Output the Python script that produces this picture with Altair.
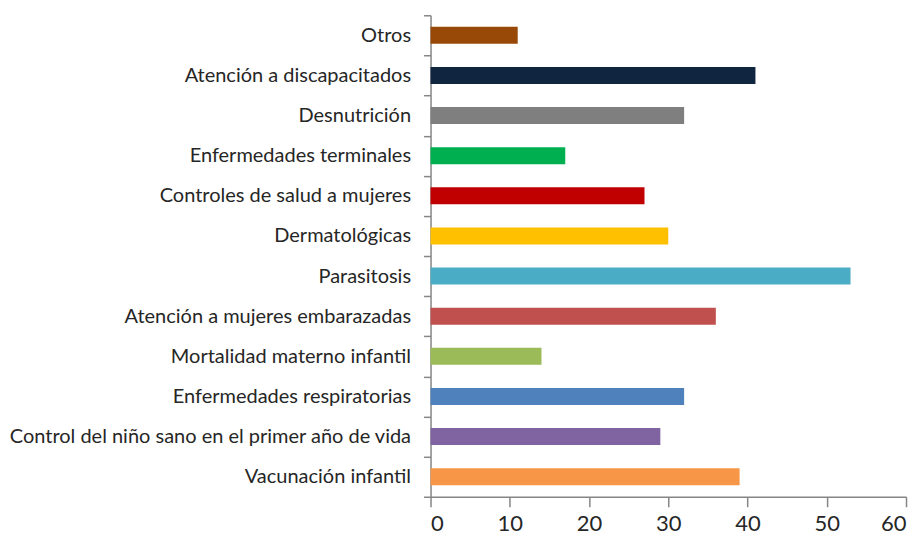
import altair as alt
import pandas as pd

categories = [
    "Otros",
    "Atención a discapacitados",
    "Desnutrición",
    "Enfermedades terminales",
    "Controles de salud a mujeres",
    "Dermatológicas",
    "Parasitosis",
    "Atención a mujeres embarazadas",
    "Mortalidad materno infantil",
    "Enfermedades respiratorias",
    "Control del niño sano en el primer año de vida",
    "Vacunación infantil",
]
values = [11, 41, 32, 17, 27, 30, 53, 36, 14, 32, 29, 39]
colors = [
    "#984807", "#10253F", "#7F7F7F", "#00B050", "#C00000", "#FFC000",
    "#4BACC6", "#C0504D", "#9BBB59", "#4F81BD", "#8064A2", "#F79646",
]
x_ticks = [0, 10, 20, 30, 40, 50, 60]

df = pd.DataFrame({"categoria": categories, "valor": values})

chart = alt.Chart(df).mark_bar(size=17).encode(
    y=alt.Y(
        "categoria:N",
        sort=categories,
        title=None,
        scale=alt.Scale(paddingInner=0, paddingOuter=0),
        axis=alt.Axis(
            tickBand="extent",
            tickSize=7,
            tickColor="#868686",
            domainColor="#868686",
            labelFont="Lato",
            labelFontSize=20,
            labelColor="#262626",
            labelPadding=13,
            labelLimit=500,
            grid=False,
        ),
    ),
    x=alt.X(
        "valor:Q",
        title=None,
        scale=alt.Scale(domain=[0, 60], nice=False),
        axis=alt.Axis(
            values=x_ticks,
            tickSize=10,
            tickColor="#868686",
            domainColor="#868686",
            labelFont="Lato",
            labelFontSize=22,
            labelColor="#262626",
            labelPadding=7,
            grid=False,
        ),
    ),
    color=alt.Color(
        "categoria:N",
        scale=alt.Scale(domain=categories, range=colors),
        legend=None,
    ),
).properties(
    width=476,
    height=482,
    autosize=alt.AutoSizeParams(type="none"),
    padding={"left": 423, "top": 7, "right": 10, "bottom": 40},
).configure_view(stroke=None).configure_axis(domainWidth=1.5, tickWidth=1.5)

chart.save("out.html", embed_options={"renderer": "svg", "actions": False})
